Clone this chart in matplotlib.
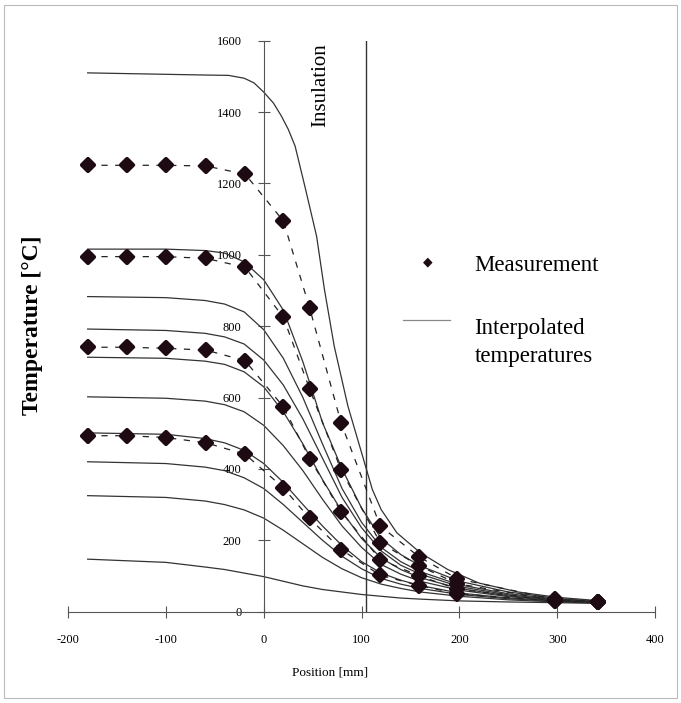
import matplotlib
matplotlib.use("Agg")
import matplotlib.pyplot as plt
from matplotlib.patches import Rectangle
from matplotlib.markers import MarkerStyle

plt.rcParams['font.family'] = ['Liberation Serif', 'DejaVu Serif']
plt.rcParams['axes.unicode_minus'] = False

# measured temperatures (diamonds, dashed lines)
pos_meas = [-180, -140, -100, -59, -19, 20, 47, 79, 119, 159, 198, 298, 342]
meas_a = [1251, 1251, 1251, 1249, 1226, 1095, 850, 529, 240, 153, 92, 34, 28]
meas_b = [995, 995, 995, 990, 965, 825, 623, 397, 193, 128, 78, 32, 28]
meas_c = [741, 741, 738, 733, 703, 574, 429, 280, 146, 100, 63, 30, 27]
meas_d = [493, 493, 488, 473, 441, 347, 261, 174, 102, 73, 50, 29, 26]

# interpolated temperature curves (solid lines)
pos_top = [-180, -100, -60, -36, -20, -10, 0, 10, 18, 25, 32, 42, 54, 62, 72, 86, 100,
           111, 120, 136, 160, 188, 220, 260, 300, 345]
int_1 = [1510, 1506, 1504, 1503, 1495, 1482, 1456, 1425, 1389, 1352, 1305, 1192, 1052,
         903, 744, 576, 445, 342, 286, 221, 165, 118, 80, 55, 40, 30]

pos_int = [-180, -100, -60, -40, -20, 0, 20, 40, 60, 80, 100, 120, 140, 160, 200, 250, 300, 345]
int_2 = [1016, 1016, 1012, 1005, 980, 930, 845, 700, 530, 400, 290, 205, 160, 128, 85, 55, 37, 28]
int_3 = [883, 880, 872, 862, 840, 790, 710, 600, 470, 345, 250, 180, 140, 112, 75, 50, 35, 28]
int_4 = [792, 788, 780, 770, 750, 705, 635, 540, 430, 320, 235, 170, 130, 105, 70, 47, 33, 27]
int_5 = [713, 710, 702, 693, 672, 630, 560, 470, 370, 280, 205, 150, 118, 95, 65, 44, 32, 27]
int_6 = [602, 598, 590, 580, 560, 522, 465, 395, 315, 240, 180, 132, 105, 85, 60, 42, 31, 26]
int_7 = [501, 497, 485, 473, 452, 415, 362, 300, 240, 185, 140, 108, 88, 73, 52, 38, 30, 26]
int_8 = [420, 415, 405, 395, 375, 345, 300, 250, 200, 155, 120, 93, 77, 65, 48, 36, 29, 25]
int_9 = [325, 320, 310, 300, 285, 262, 228, 190, 152, 120, 95, 77, 65, 55, 43, 33, 27, 24]
int_10 = [147, 138, 125, 118, 108, 98, 85, 72, 62, 55, 48, 43, 38, 35, 30, 27, 25, 23]

insulation_x = 104.5

fig = plt.figure(figsize=(6.81, 7.03), dpi=100)
ax = fig.add_axes([0.10, 0.13, 0.862, 0.812])

line_col = '#333333'
ax.plot(pos_top, int_1, color=line_col, lw=0.9, zorder=2)
for curve in [int_2, int_3, int_4, int_5, int_6, int_7, int_8, int_9, int_10]:
    ax.plot(pos_int, curve, color=line_col, lw=0.9, zorder=2)

diamond = MarkerStyle('D', joinstyle='round')
for m in [meas_a, meas_b, meas_c, meas_d]:
    ax.plot(pos_meas, m, color='#222222', lw=0.9, ls=(0, (5, 6)),
            marker=diamond, ms=6, mew=3, mfc='#1e0a12', mec='#1e0a12', zorder=3)

ax.plot([insulation_x, insulation_x], [0, 1600], color='#333333', lw=1.0)
ax.text(58, 1477, 'Insulation', rotation=90, fontsize=15, ha='center', va='center')

ax.set_xlim(-200, 400)
ax.set_ylim(0, 1600)
for s in ['top', 'right']:
    ax.spines[s].set_visible(False)
ax.spines['left'].set_position(('data', 0))
ax.spines['bottom'].set_position(('data', 0))
ax.spines['left'].set_color('#555555')
ax.spines['bottom'].set_color('#555555')
ax.spines['left'].set_linewidth(0.8)
ax.spines['bottom'].set_linewidth(0.8)

ax.set_xticks([-200, -100, 0, 100, 200, 300, 400])
ax.set_yticks([0, 200, 400, 600, 800, 1000, 1200, 1400, 1600])
ax.tick_params(direction='inout', length=8, width=0.8, color='#555555', labelsize=9)
ax.tick_params(axis='x', pad=12)
ax.tick_params(axis='y', pad=12)
ax.patch.set_alpha(0)

fig.text(0.485, 0.044, 'Position [mm]', fontsize=9.5, ha='center', va='center')
fig.text(0.047, 0.538, 'Temperature [°C]', fontsize=17, fontweight='bold',
         rotation=90, ha='center', va='center')

# legend drawn by hand
fig.text(0.628, 0.627, '\u25c6', fontsize=9, ha='center', va='center', color='#1e0a12')
fig.text(0.697, 0.623, 'Measurement', fontsize=16.5, ha='left', va='center')
fig.add_artist(plt.Line2D([0.592, 0.661], [0.545, 0.545], color='#888888', lw=0.9))
fig.text(0.697, 0.513, 'Interpolated\ntemperatures', fontsize=16.5, ha='left', va='center',
         linespacing=1.45)

fig.add_artist(Rectangle((0.006, 0.007), 0.988, 0.986, transform=fig.transFigure,
                         fill=False, edgecolor='#bbbbbb', lw=0.8))

fig.savefig('out.png', dpi=100)
